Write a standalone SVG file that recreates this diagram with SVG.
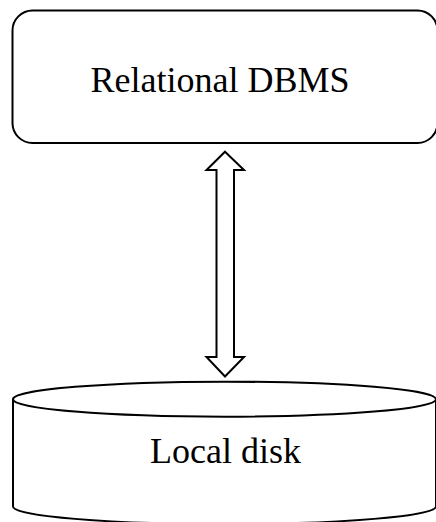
<svg xmlns="http://www.w3.org/2000/svg" width="436" height="522" viewBox="0 0 436 522">
<style>
.s{fill:#fff;stroke:#000;stroke-width:2}
.t{font-family:"Liberation Serif","Times New Roman",serif;font-size:36px;fill:#000;text-anchor:middle}
</style>
<rect width="436" height="522" fill="#fff"/>
<g id="dbms">
<rect class="s" x="12.5" y="10.5" width="425" height="132.5" rx="20" ry="20"/>
<text class="t" x="220" y="91.5">Relational DBMS</text>
</g>
<g id="disk">
<path class="s" d="M13,399.2 L13,506.5 A211.5,17.5 0 0 0 436,506.5 L436,399.2"/>
<ellipse class="s" cx="224.5" cy="399.2" rx="211.5" ry="17.5"/>
<text class="t" x="225.5" y="463.3">Local disk</text>
</g>
<g id="connectors">
<path class="s" stroke-width="1.8" d="M225,151.7 L244,170 L234,170 L234,357 L244,357 L225,376.5 L206.5,357 L216.5,357 L216.5,170 L206.5,170 Z"/>
</g>
</svg>
